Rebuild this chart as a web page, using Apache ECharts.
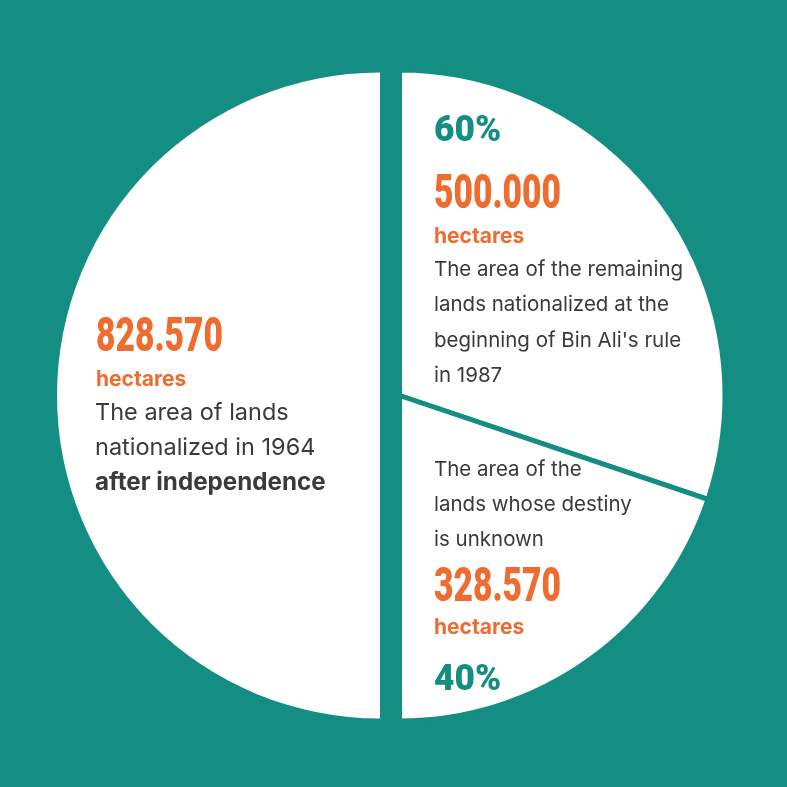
<!DOCTYPE html>
<html>
<head>
<meta charset="utf-8">
<script src="https://cdn.jsdelivr.net/npm/echarts@6/dist/echarts.min.js"></script>
<style>
  html, body { margin: 0; padding: 0; background: #148e83; }
  #chart { width: 787px; height: 787px; }
</style>
</head>
<body>
<div id="chart"></div>
<script>
// Land areas (hectares), clockwise from 12 o'clock
const categories = ['remaining', 'unknown', 'independence'];
const hectares = [500000, 328570, 828570];

// Caption lines for each block
const remainingLines = ['The area of the remaining', 'lands nationalized at the', "beginning of Bin Ali's rule", 'in 1987'];
const unknownLines = ['The area of the', 'lands whose destiny', 'is unknown'];
const independenceLines = ['The area of lands', 'nationalized in 1964'];
const independenceBold = 'after independence';
const unitLabel = 'hectares';

const TEAL = '#148e83';
const ORANGE = '#ee6c30';
const DARK = '#3a3a3a';

function fmt(n) {
  return String(n).replace(/\B(?=(\d{3})+(?!\d))/g, '.');
}
const rightTotal = hectares[0] + hectares[1];
const pct = hectares.map(v => Math.round(v / rightTotal * 100) + '%');

const chart = echarts.init(document.getElementById('chart'), null, { renderer: 'canvas' });

const hidden = { color: 'rgba(0,0,0,0)', borderWidth: 0 };

function pieSeries(center, radius, visible, withBorder) {
  return {
    type: 'pie',
    center: center,
    radius: radius,
    startAngle: 90,
    clockwise: true,
    silent: true,
    animation: false,
    avoidLabelOverlap: false,
    label: { show: false },
    labelLine: { show: false },
    emphasis: { disabled: true },
    data: hectares.map((v, i) => ({
      name: categories[i],
      value: v,
      itemStyle: visible.includes(i)
        ? (withBorder
            ? { color: '#ffffff', borderColor: TEAL, borderWidth: 5 }
            : { color: '#ffffff', borderWidth: 0 })
        : hidden
    }))
  };
}

function txt(x, y, text, size, weight, color, family, scaleX) {
  return {
    type: 'text',
    x: x,
    y: y,
    z: 100,
    scaleX: scaleX || 1,
    silent: true,
    style: {
      text: text,
      fontSize: size,
      fontWeight: weight,
      fontFamily: family,
      fill: color,
      align: 'left',
      verticalAlign: 'middle'
    }
  };
}

const NUM_FONT = 'Roboto';
const BODY_FONT = 'Inter';
const graphics = [];

// Upper right block
graphics.push(txt(434, 132, pct[0], 36, 900, TEAL, NUM_FONT, 0.98));
graphics.push(txt(434, 196, fmt(hectares[0]), 48, 900, ORANGE, NUM_FONT, 0.7));
graphics.push(txt(434, 237, unitLabel, 21, 'bold', ORANGE, BODY_FONT));
remainingLines.forEach((s, i) => graphics.push(txt(434, 270 + i * 35.3, s, 20.5, 'normal', DARK, BODY_FONT)));

// Lower right block
unknownLines.forEach((s, i) => graphics.push(txt(434, 470 + i * 35, s, 20.5, 'normal', DARK, BODY_FONT)));
graphics.push(txt(434, 589, fmt(hectares[1]), 48, 900, ORANGE, NUM_FONT, 0.7));
graphics.push(txt(434, 628, unitLabel, 21, 'bold', ORANGE, BODY_FONT));
graphics.push(txt(434, 681, pct[1], 36, 900, TEAL, NUM_FONT, 0.98));

// Left block
graphics.push(txt(96, 339, fmt(hectares[2]), 48, 900, ORANGE, NUM_FONT, 0.7));
graphics.push(txt(96, 380, unitLabel, 21, 'bold', ORANGE, BODY_FONT));
independenceLines.forEach((s, i) => graphics.push(txt(95, 413 + i * 35, s, 23.5, 'normal', DARK, BODY_FONT)));
graphics.push(txt(95, 483, independenceBold, 24.2, 'bold', DARK, BODY_FONT));

chart.setOption({
  backgroundColor: TEAL,
  animation: false,
  series: [
    pieSeries([380, 395.5], 323, [2], false),
    pieSeries([399.5, 395.5], 325.5, [0, 1], true)
  ],
  graphic: { elements: graphics }
});
</script>
</body>
</html>
